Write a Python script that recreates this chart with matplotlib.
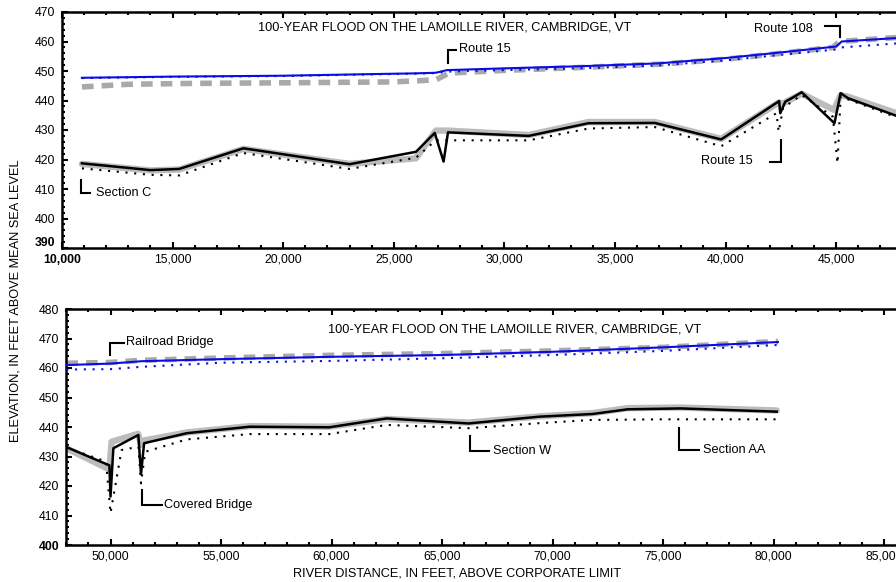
import matplotlib
matplotlib.use("Agg")
import matplotlib.pyplot as plt
import matplotlib.transforms as mtransforms
from matplotlib.ticker import MultipleLocator, FuncFormatter

plt.rcParams['font.family'] = ['Liberation Sans', 'DejaVu Sans']

TITLE = "100-YEAR FLOOD ON THE LAMOILLE RIVER, CAMBRIDGE, VT"
XLABEL = "RIVER DISTANCE, IN FEET, ABOVE CORPORATE LIMIT"
YLABEL = "ELEVATION, IN FEET ABOVE MEAN SEA LEVEL"

# ---------------- Upper reach (top panel) ----------------
top_ws_x = [10900, 15000, 20000, 24400, 26000, 26900, 27400, 30000, 33800, 37000, 40000, 42500, 45000, 45250, 48200]
top_ws_y = [447.7, 448.1, 448.4, 449.0, 449.2, 449.4, 450.3, 450.9, 451.7, 452.6, 454.4, 456.3, 458.3, 460.0, 461.4]

top_ws2_x = [10900, 15000, 20000, 24400, 26000, 26900, 27400, 30000, 33800, 37000, 40000, 42500, 45000, 45250, 48200]
top_ws2_y = [447.6, 448.0, 448.3, 448.9, 449.1, 449.3, 449.8, 450.3, 451.0, 451.9, 453.6, 455.5, 457.3, 458.0, 459.6]

top_ws3_x = [10900, 13000, 16000, 20000, 25000, 26900, 27500, 30000, 33800, 37000, 40000, 42500, 44850, 45150, 48200]
top_ws3_y = [444.6, 445.5, 445.8, 446.0, 446.3, 447.0, 449.3, 450.2, 451.3, 452.3, 454.0, 456.0, 458.0, 460.0, 461.6]

top_bed_x = [10900, 14000, 15300, 18200, 23000, 26000, 26850, 27250, 27450, 31100, 33800, 36800, 39800,
             42420, 42470, 42700, 43060, 43440, 44920, 45200, 45530, 48200]
top_bed_y = [418.7, 416.4, 416.8, 423.8, 418.4, 422.6, 429.0, 419.3, 429.2, 428.0, 432.3, 432.4, 426.8,
             439.8, 435.7, 439.6, 441.1, 442.8, 432.3, 442.5, 440.8, 433.5]

top_bed2_x = [10900, 14000, 15300, 18200, 23000, 26000, 26900, 27450, 31100, 33800, 36800, 39800,
              42420, 42500, 42750, 43440, 44900, 45200, 45530, 48200]
top_bed2_y = [418.5, 416.3, 416.6, 423.6, 418.5, 420.4, 429.8, 429.8, 428.3, 432.7, 432.7, 427.0,
              439.4, 438.6, 439.6, 442.3, 436.8, 441.8, 441.3, 434.5]

top_bed3_x = [10900, 14000, 15300, 18200, 23000, 26000, 26900, 27400, 31100, 33800, 36800, 39800,
              42300, 42400, 42600, 43440, 44850, 45060, 45200, 48200]
top_bed3_y = [417.0, 414.8, 414.6, 422.2, 416.8, 420.6, 426.5, 426.5, 426.5, 430.5, 431.0, 424.5,
              435.7, 429.4, 437.5, 441.9, 434.5, 418.7, 441.3, 433.0]

# ---------------- Lower reach (bottom panel) ----------------
bot_ws_x = [48000, 50000, 51400, 55000, 60000, 65000, 70000, 75000, 80200]
bot_ws_y = [461.0, 461.5, 462.3, 463.0, 463.8, 464.4, 465.5, 467.0, 468.8]

bot_ws2_x = [48000, 50000, 51400, 55000, 60000, 65000, 70000, 75000, 80200]
bot_ws2_y = [459.5, 459.6, 460.4, 461.8, 462.4, 463.3, 464.4, 465.8, 467.8]

bot_ws3_x = [48000, 50000, 51400, 55000, 60000, 65000, 70000, 75000, 80200]
bot_ws3_y = [461.6, 461.9, 462.6, 463.4, 464.3, 464.9, 465.8, 467.0, 469.0]

bot_bed_x = [48000, 49950, 50000, 50130, 51260, 51380, 51520, 53450, 56300, 59900, 62500, 66200,
             69400, 71800, 73400, 75800, 80150]
bot_bed_y = [433.2, 427.0, 416.4, 432.8, 437.3, 424.0, 434.5, 437.9, 440.1, 439.9, 442.9, 441.2,
             443.5, 444.4, 446.0, 446.3, 445.2]

bot_bed2_x = [48000, 49950, 50050, 51250, 51380, 51550, 53500, 56300, 59900, 62500, 66200,
              69400, 71800, 73400, 75800, 80150]
bot_bed2_y = [432.8, 425.6, 435.0, 437.7, 434.0, 435.5, 438.2, 440.3, 440.1, 442.7, 441.5,
              443.6, 444.7, 446.4, 446.6, 445.6]

bot_bed3_x = [48000, 49800, 50000, 50500, 51260, 51380, 51570, 53450, 56300, 59900, 62500, 66200,
              69400, 71800, 75000, 80150]
bot_bed3_y = [433.0, 428.3, 410.8, 432.2, 433.3, 420.9, 431.6, 435.8, 437.6, 437.6, 440.7, 439.6,
              441.3, 442.4, 442.6, 442.6]

# ---------------- Annotations (label, bracket points) ----------------
top_notes = [
    ("Route 15", [27450, 27450, 27810], [452.7, 457.1, 457.1], 27950, 457.4, 'left'),
    ("Route 108", [44490, 45170, 45170], [465.3, 465.3, 461.5], 43950, 464.4, 'right'),
    ("Route 15", [42500, 42500, 42000], [426.6, 419.2, 419.2], 41230, 419.4, 'right'),
    ("Section C", [10860, 10860, 11270], [413.0, 408.6, 408.6], 11540, 408.8, 'left'),
]
bot_notes = [
    ("Railroad Bridge", [49980, 49980, 50610], [464.4, 468.6, 468.6], 50700, 468.8, 'left'),
    ("Covered Bridge", [51410, 51410, 52330], [418.6, 413.6, 413.6], 52420, 413.7, 'left'),
    ("Section W", [66270, 66270, 67130], [437.0, 431.7, 431.7], 67310, 431.8, 'left'),
    ("Section AA", [75720, 75720, 76640], [439.6, 432.2, 432.2], 76820, 432.3, 'left'),
]

fig = plt.figure(figsize=(8.96, 5.82), dpi=100)
W, H = 896.0, 582.0
ax1 = fig.add_axes([62 / W, 1 - 248 / H, 884.8 / W, 236 / H])
ax2 = fig.add_axes([66.3 / W, 1 - 545 / H, 884 / W, 236 / H])

BLUE = '#0a0ae6'
SHADE = '#bcbcbc'
DASHGRAY = '#a9a9a9'
FS_TICK = 8.8
FS = 9.2


def draw(ax, ws, ws2, ws3, bed, bed2, bed3):
    ax.plot(*bed2, color=SHADE, lw=4.6, solid_joinstyle='round', solid_capstyle='round', zorder=2)
    ax.plot(*bed3, color='black', lw=1.5, linestyle=(0, (1, 3.2)), zorder=3)
    ax.plot(*bed, color='black', lw=1.8, zorder=4)
    ax.plot(*ws3, color=DASHGRAY, lw=4.0, linestyle=(0, (2.1, 1.45)), zorder=2.5)
    ax.plot(*ws2, color=BLUE, lw=1.5, linestyle=(0, (1, 3.2)), zorder=5)
    ax.plot(*ws, color=BLUE, lw=1.5, zorder=6)


def style(ax, xlim, ylim, xlabel_max):
    ax.set_xlim(*xlim)
    ax.set_ylim(*ylim)
    ax.xaxis.set_major_locator(MultipleLocator(5000))
    ax.xaxis.set_minor_locator(MultipleLocator(1000))
    ax.yaxis.set_major_locator(MultipleLocator(10))
    ax.yaxis.set_minor_locator(MultipleLocator(2))
    ax.xaxis.set_major_formatter(FuncFormatter(lambda v, p: f"{int(v):,}" if v <= xlabel_max else ""))
    ax.yaxis.set_major_formatter(FuncFormatter(lambda v, p: f"{int(v)}"))
    ax.tick_params(which='both', direction='in', top=True, right=True, width=1.5, color='black')
    ax.tick_params(which='major', length=4.5)
    ax.tick_params(which='minor', length=2.5)
    ax.tick_params(axis='y', which='major', pad=5, labelsize=FS_TICK)
    ax.tick_params(axis='x', which='major', pad=4, labelsize=FS_TICK)
    for s in ax.spines.values():
        s.set_linewidth(1.8)
    ax.set_facecolor('white')


draw(ax1, (top_ws_x, top_ws_y), (top_ws2_x, top_ws2_y), (top_ws3_x, top_ws3_y),
     (top_bed_x, top_bed_y), (top_bed2_x, top_bed2_y), (top_bed3_x, top_bed3_y))
draw(ax2, (bot_ws_x, bot_ws_y), (bot_ws2_x, bot_ws2_y), (bot_ws3_x, bot_ws3_y),
     (bot_bed_x, bot_bed_y), (bot_bed2_x, bot_bed2_y), (bot_bed3_x, bot_bed3_y))

style(ax1, (10000, 50000), (390, 470), 45000)
style(ax2, (48000, 88000), (400, 480), 85000)

for ax, notes in ((ax1, top_notes), (ax2, bot_notes)):
    for label, bx, by, tx, ty, ha in notes:
        ax.plot(bx, by, color='black', lw=1.5, solid_joinstyle='miter', zorder=7)
        ax.text(tx, ty, label, ha=ha, va='center', fontsize=FS)

ax1.text(27310, 464.6, TITLE, ha='center', va='center', fontsize=FS)
ax2.text(68300, 472.9, TITLE, ha='center', va='center', fontsize=FS)

fig.text(457 / W, 1 - 573 / H, XLABEL, ha='center', va='center', fontsize=FS)
fig.text(16 / W, 1 - 301 / H, YLABEL, ha='center', va='center', rotation=90, fontsize=FS)

fig.canvas.draw()
# corner labels bold; shift the 390 label up to clear the 10,000 label
shift = mtransforms.ScaledTranslation(0, 7 / 100, fig.dpi_scale_trans)
for lbl in ax1.get_yticklabels():
    if lbl.get_text() == '390':
        lbl.set_fontweight('bold')
        lbl.set_transform(lbl.get_transform() + shift)
for lbl in ax1.get_xticklabels():
    if lbl.get_text() == '10,000':
        lbl.set_fontweight('bold')
for lbl in ax2.get_yticklabels():
    if lbl.get_text() == '400':
        lbl.set_fontweight('bold')

fig.savefig('out.png', dpi=100)
